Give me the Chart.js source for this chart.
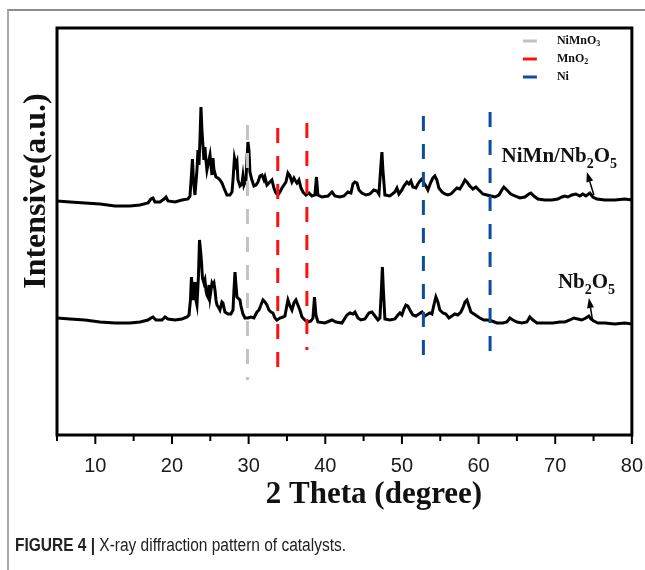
<!DOCTYPE html>
<html>
<head>
<meta charset="utf-8">
<script src="https://cdn.jsdelivr.net/npm/chart.js@4.4.0/dist/chart.umd.min.js"></script>
<style>
  html, body { margin: 0; padding: 0; background: #fff; }
  #wrap { position: relative; width: 645px; height: 570px; overflow: hidden; }
  #frame { position: absolute; left: 7px; top: 9px; right: -5px; bottom: -5px; border-left: 2px solid #a8a8a8; border-top: 2px solid #8c8c8c; }
  canvas { position: absolute; left: 0; top: 0; }
  #caption { position: absolute; left: 15px; top: 535px; font-size: 18px; font-family: "Liberation Sans", Arial, sans-serif; color: #222; white-space: nowrap; transform: scaleX(0.86); transform-origin: 0 0; }
</style>
</head>
<body>
<div id="wrap">
  <div id="frame"></div>
  <canvas id="xrdChart" width="645" height="570"></canvas>
  <div id="caption"><b>FIGURE 4 | </b>X-ray diffraction pattern of catalysts.</div>
</div>
<script>
// 2θ (degree), intensity (a.u.)
const nimnNb2o5 = [
  [5.00,234],[6.70,233],[8.65,232],[10.61,231],[12.56,229],[14.52,229],[15.83,230],[16.87,232],
  [17.26,236],[17.52,237],[17.78,233],[18.43,233],[18.96,236],[19.22,238],[19.48,234],[20.39,233],
  [21.30,235],[22.09,236],[22.35,239],[22.54,260],[22.67,276],[22.80,255],[23.00,240],[23.26,265],
  [23.39,285],[23.52,270],[23.65,295],[23.78,328],[23.91,305],[24.04,290],[24.17,275],[24.30,288],
  [24.43,275],[24.56,265],[24.69,270],[24.96,280],[25.09,270],[25.22,260],[25.35,277],[25.48,265],
  [25.74,258],[26.00,257],[26.26,255],[26.52,252],[26.78,247],[27.17,240],[27.56,240],[27.83,243],
  [27.96,255],[28.15,277],[28.35,270],[28.48,273],[28.61,255],[28.87,249],[29.13,251],[29.26,259],
  [29.39,250],[29.65,255],[29.78,275],[29.91,293],[30.04,285],[30.17,263],[30.43,255],[30.69,249],
  [30.96,250],[31.22,253],[31.48,259],[31.74,260],[32.00,255],[32.13,258],[32.39,250],[32.65,252],
  [33.04,255],[33.30,247],[33.56,242],[33.82,240],[34.09,243],[34.35,247],[34.61,250],[34.87,253],
  [35.13,262],[35.39,259],[35.65,253],[35.91,257],[36.04,255],[36.30,252],[36.56,255],[36.83,247],
  [37.09,243],[37.48,240],[37.87,242],[38.26,239],[38.65,240],[38.85,258],[39.04,240],[39.56,238],
  [40.35,239],[40.87,243],[41.26,239],[41.91,238],[42.43,239],[42.95,243],[43.35,242],[43.61,251],
  [43.87,253],[44.13,252],[44.39,245],[44.78,242],[45.30,240],[45.82,241],[46.35,245],[46.74,244],
  [47.00,241],[47.26,270],[47.39,283],[47.52,265],[47.78,240],[48.43,239],[49.08,243],[49.35,247],
  [49.61,241],[50.00,245],[50.26,249],[50.65,253],[50.91,251],[51.17,254],[51.43,248],[51.82,247],
  [52.08,251],[52.35,254],[52.61,256],[52.87,252],[53.13,249],[53.39,245],[53.78,253],[54.04,257],
  [54.30,259],[54.56,255],[54.82,247],[55.22,243],[55.61,241],[56.00,240],[56.39,241],[56.78,244],
  [57.17,247],[57.56,246],[57.95,251],[58.22,255],[58.48,253],[58.87,249],[59.26,246],[59.65,248],
  [60.04,245],[60.56,241],[61.08,240],[61.61,239],[62.13,238],[62.65,240],[63.04,245],[63.30,248],
  [63.69,245],[64.21,241],[64.74,239],[65.39,237],[66.04,238],[66.56,241],[66.82,242],[67.22,239],
  [67.74,236],[68.65,235],[69.56,235],[70.35,236],[70.87,238],[71.26,239],[71.65,238],[72.17,240],
  [72.69,241],[73.21,239],[73.61,241],[74.00,239],[74.52,242],[74.91,238],[75.43,236],[76.48,235],
  [77.78,235],[79.08,236],[80.00,235]
];

const nb2o5 = [
  [5.00,117],[6.70,116],[8.65,115],[10.61,113],[12.56,112],[14.52,112],[15.83,113],[16.87,115],
  [17.26,117],[17.52,118],[17.91,115],[18.70,115],[19.09,118],[19.48,116],[20.39,115],[21.30,116],
  [21.96,118],[22.22,120],[22.41,135],[22.54,158],[22.67,145],[22.80,135],[23.00,153],[23.13,135],
  [23.26,130],[23.46,160],[23.59,195],[23.72,185],[23.85,173],[23.98,157],[24.17,152],[24.30,155],
  [24.43,145],[24.56,140],[24.69,138],[24.83,150],[24.96,138],[25.22,152],[25.35,150],[25.48,152],
  [25.61,145],[25.74,135],[25.87,130],[26.13,127],[26.26,125],[26.52,133],[26.65,132],[26.91,123],
  [27.30,121],[27.69,121],[27.96,125],[28.09,145],[28.22,163],[28.35,150],[28.48,138],[28.61,137],
  [28.87,135],[29.00,129],[29.26,121],[29.52,117],[29.91,117],[30.30,118],[30.69,117],[31.09,123],
  [31.35,125],[31.61,130],[31.87,135],[32.13,133],[32.39,130],[32.65,125],[32.91,123],[33.17,122],
  [33.43,117],[33.69,115],[34.09,117],[34.48,118],[34.74,119],[35.00,130],[35.13,135],[35.39,129],
  [35.65,125],[35.91,132],[36.17,135],[36.43,130],[36.69,125],[36.96,118],[37.35,115],[37.74,113],
  [38.13,114],[38.39,117],[38.59,138],[38.78,120],[39.04,113],[39.96,112],[40.87,115],[41.39,113],
  [42.17,112],[42.82,120],[43.22,122],[43.61,121],[43.87,123],[44.26,117],[44.65,115],[45.17,116],
  [45.69,122],[46.09,123],[46.48,119],[46.87,115],[47.13,117],[47.32,145],[47.45,168],[47.58,145],
  [47.78,116],[48.43,115],[49.08,116],[49.48,120],[49.74,122],[50.00,120],[50.26,126],[50.52,130],
  [50.78,129],[51.04,125],[51.43,120],[51.82,119],[52.22,121],[52.61,123],[53.00,119],[53.39,121],
  [53.65,122],[53.91,121],[54.17,130],[54.43,138],[54.69,133],[54.95,125],[55.35,122],[55.74,121],
  [56.13,117],[56.52,119],[56.91,121],[57.30,120],[57.69,123],[57.95,127],[58.22,133],[58.48,135],
  [58.74,129],[59.00,123],[59.39,121],[59.78,119],[60.17,117],[60.69,115],[61.21,115],[61.74,114],
  [62.39,112],[63.17,112],[63.69,113],[64.08,117],[64.48,115],[65.00,113],[65.65,112],[66.30,113],
  [66.69,118],[67.09,115],[67.61,112],[68.65,112],[69.69,112],[70.61,113],[71.26,113],[71.91,115],
  [72.43,117],[72.95,116],[73.47,115],[74.00,117],[74.39,119],[74.65,116],[75.04,114],[75.56,112],
  [76.48,112],[77.78,111],[79.08,112],[80.00,111]
];

// reference phase positions (2θ) and the span of each dashed marker (a.u.)
const niMnO3Peaks = [29.85];
const mnO2Peaks = [33.8, 37.6];
const niPeaks = [52.8, 61.5];
const niMnO3Spans = [[310, 55]];
const mnO2Spans = [[307, 55], [312, 85]];
const niSpans = [[319, 75], [323, 75]];

const xTickLabels = [10, 20, 30, 40, 50, 60, 70, 80];

// arrows: [tailX, tailY, tipX, tipY]
const arrowUpper = [75.04, 240, 74.13, 263];
const arrowLower = [74.91, 113, 74.39, 137];

const serif = '"Liberation Serif", "Times New Roman", serif';

function refLines(peaks, spans, color) {
  return peaks.map((p, i) => ({
    data: [{ x: p, y: spans[i][0] }, { x: p, y: spans[i][1] }],
    borderColor: color,
    borderWidth: 3,
    borderDash: [15, 13],
    pointRadius: 0
  }));
}

function toXY(arr) {
  return arr.map(d => ({ x: d[0], y: d[1] }));
}

// text with subscripts, parts = [[text, isSub], ...]
function drawRich(ctx, x, y, parts, size) {
  let cx = x;
  parts.forEach(([t, sub]) => {
    ctx.font = 'bold ' + (sub ? Math.round(size * 0.65) : size) + 'px ' + serif;
    ctx.fillText(t, cx, sub ? y + size * 0.28 : y);
    cx += ctx.measureText(t).width;
  });
}

function drawArrow(ctx, x0, y0, x1, y1) {
  const ang = Math.atan2(y1 - y0, x1 - x0);
  const len = 10, half = 3.5;
  const bx = x1 - len * Math.cos(ang), by = y1 - len * Math.sin(ang);
  ctx.beginPath();
  ctx.moveTo(x0, y0);
  ctx.lineTo(bx, by);
  ctx.lineWidth = 1.5;
  ctx.strokeStyle = '#000';
  ctx.stroke();
  ctx.beginPath();
  ctx.moveTo(x1, y1);
  ctx.lineTo(bx + half * Math.sin(ang), by - half * Math.cos(ang));
  ctx.lineTo(bx - half * Math.sin(ang), by + half * Math.cos(ang));
  ctx.closePath();
  ctx.fillStyle = '#000';
  ctx.fill();
}

const decorPlugin = {
  id: 'decor',
  afterDraw(chart) {
    const ctx = chart.ctx;
    const { left, right, top, bottom } = chart.chartArea;
    const xs = chart.scales.x, ys = chart.scales.y;
    ctx.save();

    // frame
    ctx.strokeStyle = '#000';
    ctx.lineWidth = 3;
    ctx.strokeRect(left, top, right - left, bottom - top);

    // tick marks
    ctx.lineWidth = 2;
    xs.ticks.forEach(t => {
      const px = xs.getPixelForValue(t.value);
      const major = xTickLabels.includes(t.value);
      ctx.beginPath();
      ctx.moveTo(px, bottom);
      ctx.lineTo(px, bottom + (major ? 9 : 6));
      ctx.stroke();
    });

    // axis titles
    ctx.fillStyle = '#111';
    ctx.textAlign = 'center';
    ctx.textBaseline = 'alphabetic';
    ctx.font = 'bold 31px ' + serif;
    ctx.fillText('2 Theta (degree)', left + 317, bottom + 68);
    ctx.save();
    ctx.translate(left - 12, top + 163);
    ctx.rotate(-Math.PI / 2);
    ctx.font = 'bold 32px ' + serif;
    ctx.fillText('Intensive(a.u.)', 0, 0);
    ctx.restore();
    ctx.textAlign = 'left';

    // legend
    const legend = [
      ['#c3c3c3', [['NiMnO', false], ['3', true]]],
      ['#ff1010', [['MnO', false], ['2', true]]],
      ['#0f4c9c', [['Ni', false]]]
    ];
    ctx.textBaseline = 'middle';
    legend.forEach(([c, parts], i) => {
      const ly = top + 13 + i * 18;
      ctx.strokeStyle = c;
      ctx.lineWidth = 3;
      ctx.beginPath();
      ctx.moveTo(right - 109, ly);
      ctx.lineTo(right - 95, ly);
      ctx.stroke();
      ctx.fillStyle = '#111';
      drawRich(ctx, right - 75, ly, parts, 12);
    });

    // sample labels
    ctx.textBaseline = 'alphabetic';
    ctx.fillStyle = '#111';
    drawRich(ctx, xs.getPixelForValue(63.0), ys.getPixelForValue(273),
      [['NiMn/Nb', false], ['2', true], ['O', false], ['5', true]], 21);
    drawRich(ctx, xs.getPixelForValue(70.35), ys.getPixelForValue(147),
      [['Nb', false], ['2', true], ['O', false], ['5', true]], 21);

    [arrowUpper, arrowLower].forEach(a => {
      drawArrow(ctx, xs.getPixelForValue(a[0]), ys.getPixelForValue(a[1]),
        xs.getPixelForValue(a[2]), ys.getPixelForValue(a[3]));
    });
    ctx.restore();
  }
};

new Chart(document.getElementById('xrdChart').getContext('2d'), {
  type: 'line',
  data: {
    datasets: [
      ...refLines(niMnO3Peaks, niMnO3Spans, '#c3c3c3'),
      ...refLines(mnO2Peaks, mnO2Spans, '#ff1010'),
      ...refLines(niPeaks, niSpans, '#0f4c9c'),
      { label: 'NiMn/Nb2O5', data: toXY(nimnNb2o5), borderColor: '#000', borderWidth: 3, pointRadius: 0, tension: 0 },
      { label: 'Nb2O5', data: toXY(nb2o5), borderColor: '#000', borderWidth: 3, pointRadius: 0, tension: 0 }
    ]
  },
  options: {
    responsive: false,
    animation: false,
    devicePixelRatio: 1,
    layout: { padding: { left: 57, right: 13, top: 28, bottom: 73 } },
    plugins: { legend: { display: false }, tooltip: { enabled: false } },
    scales: {
      x: {
        type: 'linear',
        min: 5,
        max: 80,
        ticks: {
          stepSize: 5,
          autoSkip: false,
          maxRotation: 0,
          padding: 2,
          color: '#1a1a1a',
          font: { family: '"Liberation Sans", Arial, sans-serif', size: 20, lineHeight: '58px' },
          callback: v => xTickLabels.includes(v) ? v : ''
        },
        grid: { display: false, drawTicks: false },
        border: { display: false }
      },
      y: {
        min: 0,
        max: 407,
        ticks: { display: false },
        grid: { display: false, drawTicks: false },
        border: { display: false }
      }
    }
  },
  plugins: [decorPlugin]
});
</script>
</body>
</html>
